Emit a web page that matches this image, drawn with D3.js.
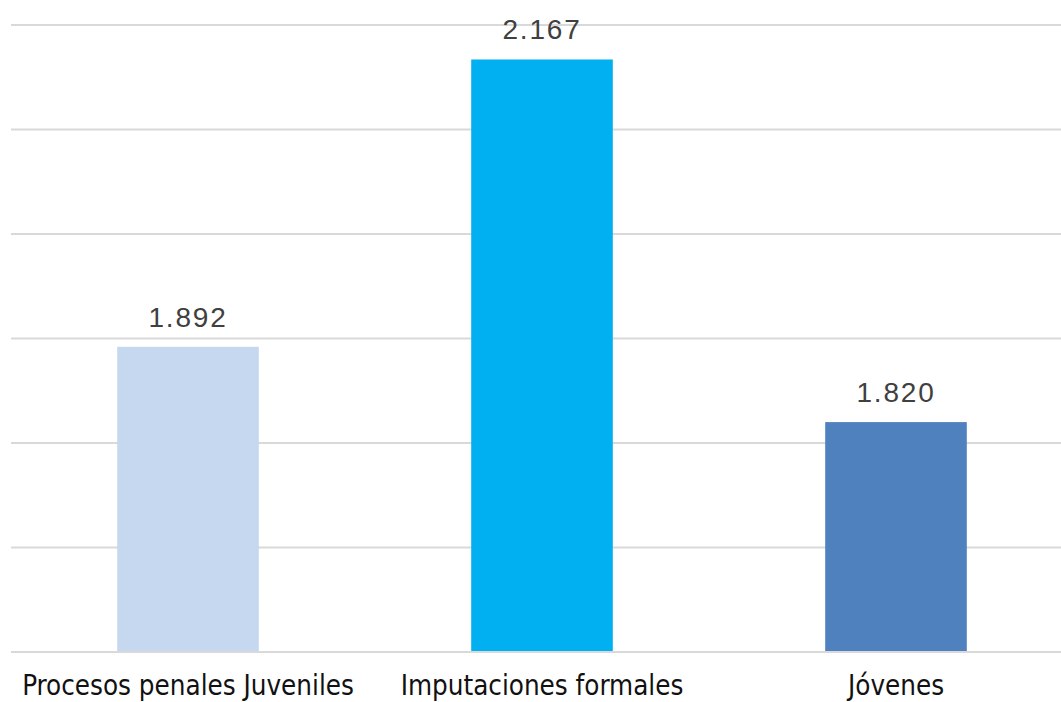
<!DOCTYPE html>
<html>
<head>
<meta charset="utf-8">
<script src="https://cdn.jsdelivr.net/npm/d3@7"></script>
<style>
  body { margin: 0; background: #fff; }
</style>
</head>
<body>
<svg id="chart"></svg>
<script>
// Chart data
const categories = ["Procesos penales Juveniles", "Imputaciones formales", "Jóvenes"];
const values = [1.892, 2.167, 1.82];
const valueLabels = ["1.892", "2.167", "1.820"];
const colors = ["#c6d8f0", "#00b0f0", "#4e81bd"];
const yTicks = [1.6, 1.7, 1.8, 1.9, 2.0, 2.1, 2.2];

const width = 1061;
const height = 702;
const margin = { top: 25, right: 0, bottom: 50, left: 11 };

const svg = d3.select("#chart")
  .attr("width", width)
  .attr("height", height);

// Scales
const x = d3.scaleBand()
  .domain(categories)
  .range([margin.left, 1073])
  .paddingInner(0.6)
  .paddingOuter(0.3);

const y = d3.scaleLinear()
  .domain([1.6, 2.2])
  .range([height - margin.bottom, margin.top]);

// Gridlines
svg.append("g")
  .selectAll("line")
  .data(yTicks)
  .join("line")
  .attr("x1", margin.left)
  .attr("x2", width)
  .attr("y1", (d) => y(d))
  .attr("y2", (d) => y(d))
  .attr("stroke", "#d9d9d9")
  .attr("stroke-width", 2);

// Bars
svg.append("g")
  .selectAll("rect")
  .data(values)
  .join("rect")
  .attr("x", (d, i) => x(categories[i]))
  .attr("y", (d) => y(d))
  .attr("width", x.bandwidth())
  .attr("height", (d) => y(1.6) - y(d) - 1)
  .attr("fill", (d, i) => colors[i]);

// Value labels
svg.append("g")
  .selectAll("text")
  .data(values)
  .join("text")
  .attr("x", (d, i) => x(categories[i]) + x.bandwidth() / 2)
  .attr("y", (d) => y(d) - 20)
  .attr("text-anchor", "middle")
  .attr("font-family", "'Liberation Sans', Arial, sans-serif")
  .attr("font-size", 28)
  .attr("letter-spacing", 1.8)
  .attr("fill", "#404040")
  .text((d, i) => valueLabels[i]);

// Category axis
const xAxis = svg.append("g")
  .attr("transform", "translate(0," + (height - margin.bottom) + ")")
  .call(d3.axisBottom(x).tickSize(0).tickPadding(23));

xAxis.select(".domain").remove();
xAxis.selectAll("text")
  .attr("font-family", "'Liberation Sans Narrow', 'DejaVu Sans Condensed', sans-serif")
  .attr("font-size", 27.5)
  .attr("font-weight", 500)
  .attr("fill", "#111");
</script>
</body>
</html>
